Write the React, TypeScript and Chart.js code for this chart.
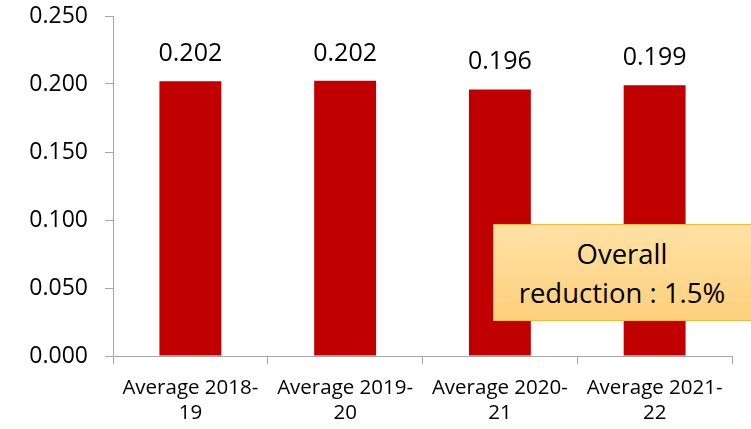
import React, { useEffect, useRef } from "react";
import { Chart, registerables } from "chart.js";

Chart.register(...registerables);

const categories: string[][] = [
  ["Average 2018-", "19"],
  ["Average 2019-", "20"],
  ["Average 2020-", "21"],
  ["Average 2021-", "22"],
];
const values: number[] = [0.202, 0.2024, 0.196, 0.199];
const yTickMin = 0;
const yTickMax = 0.25;
const yTickStep = 0.05;
const annotationLines: string[] = ["Overall", "reduction : 1.5%"];

const FONT = "'Open Sans', sans-serif";
const AXIS_GREY = "#a6a6a6";

const valueLabelPlugin = {
  id: "valueLabels",
  afterDatasetsDraw(chart: any) {
    const ctx = chart.ctx;
    const meta = chart.getDatasetMeta(0);
    ctx.save();
    ctx.font = `25px ${FONT}`;
    ctx.fillStyle = "#000";
    ctx.textAlign = "center";
    ctx.textBaseline = "alphabetic";
    meta.data.forEach((bar: any, i: number) => {
      ctx.fillText(values[i].toFixed(3), bar.x, bar.y - 20);
    });
    ctx.restore();
  },
};

export default function App() {
  const canvasRef = useRef<HTMLCanvasElement | null>(null);

  useEffect(() => {
    const canvas = canvasRef.current;
    if (!canvas) return;
    const chart = new Chart(canvas, {
      type: "bar",
      data: {
        labels: categories,
        datasets: [
          {
            data: values,
            backgroundColor: "#C00000",
            borderWidth: 0,
            barPercentage: 0.4,
            categoryPercentage: 1,
          },
        ],
      },
      options: {
        animation: false,
        responsive: false,
        devicePixelRatio: 1,
        layout: { padding: { top: 0, right: 19, left: 0, bottom: 0 } },
        plugins: {
          legend: { display: false },
          tooltip: { enabled: false },
        },
        scales: {
          x: {
            grid: {
              offset: true,
              drawOnChartArea: false,
              drawTicks: true,
              tickLength: 8,
              color: AXIS_GREY,
            },
            border: { color: AXIS_GREY, width: 1 },
            ticks: {
              font: { family: FONT, size: 20.5 },
              color: "#000",
              padding: 12,
              maxRotation: 0,
              autoSkip: false,
            },
            afterFit(scale: any) {
              scale.height = 73;
            },
          },
          y: {
            min: yTickMin,
            max: yTickMax,
            grid: {
              drawOnChartArea: false,
              drawTicks: true,
              tickLength: 8,
              color: AXIS_GREY,
            },
            border: { color: AXIS_GREY, width: 1 },
            ticks: {
              stepSize: yTickStep,
              font: { family: FONT, size: 23 },
              color: "#000",
              padding: 17,
              callback: (v: any) => Number(v).toFixed(3),
            },
            afterFit(scale: any) {
              scale.width = 113;
              scale.paddingTop = 16;
              scale.paddingBottom = 0;
            },
          },
        },
      },
      plugins: [valueLabelPlugin],
    });
    return () => chart.destroy();
  }, []);

  return (
    <div
      style={{
        position: "fixed",
        left: 0,
        top: 0,
        width: 751,
        height: 429,
        overflow: "hidden",
        background: "#fff",
      }}
    >
      <canvas ref={canvasRef} width={751} height={429} style={{ display: "block" }} />
      <div
        style={{
          position: "absolute",
          left: 493,
          top: 224,
          width: 262,
          height: 97,
          boxSizing: "border-box",
          border: "1px solid #F5B93E",
          background: "linear-gradient(#FFE1A5, #FDD07C)",
          fontFamily: FONT,
          fontSize: 27.5,
          lineHeight: "39px",
          paddingTop: 9,
          paddingRight: 4,
          color: "#000",
          textAlign: "center",
        }}
      >
        {annotationLines.map((t, i) => (
          <div key={i}>{t}</div>
        ))}
      </div>
    </div>
  );
}
